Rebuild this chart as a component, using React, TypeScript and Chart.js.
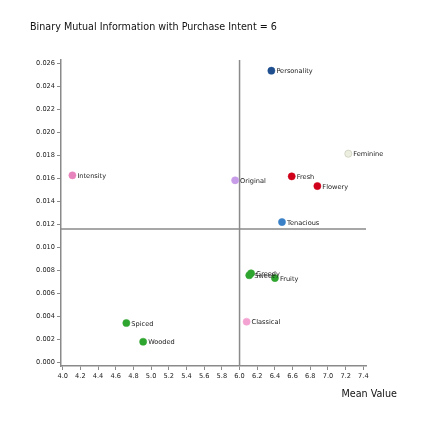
import React, { useEffect, useRef } from "react";
import { Chart, registerables } from "chart.js";

Chart.register(...registerables);

const TITLE = "Binary Mutual Information with Purchase Intent = 6";
const X_TITLE = "Mean Value";

const NAMES = ["Personality", "Feminine", "Fresh", "Flowery", "Original", "Intensity", "Tenacious", "Greedy", "Sweet", "Fruity", "Spiced", "Classical", "Wooded"];
const MEAN_VALUES = [6.36, 7.23, 6.59, 6.88, 5.95, 4.11, 6.48, 6.13, 6.11, 6.40, 4.72, 6.08, 4.91];
const MUTUAL_INFO = [0.02536, 0.01814, 0.01617, 0.01533, 0.01583, 0.01626, 0.0122, 0.00774, 0.00757, 0.00733, 0.00342, 0.00353, 0.00179];
const COLORS = ["#1f4f8f", "#ecefdf", "#d0021b", "#d0021b", "#c79ce8", "#e884bd", "#3a80c6", "#2ea52e", "#2ea52e", "#2ea52e", "#2ea52e", "#f4a2d2", "#2ea52e"];

const X_TICKS = [4.0, 4.2, 4.4, 4.6, 4.8, 5.0, 5.2, 5.4, 5.6, 5.8, 6.0, 6.2, 6.4, 6.6, 6.8, 7.0, 7.2, 7.4];
const Y_TICKS = [0, 0.002, 0.004, 0.006, 0.008, 0.01, 0.012, 0.014, 0.016, 0.018, 0.02, 0.022, 0.024, 0.026];

const REF_X = 6.0;
const REF_Y = 0.0116;

const FONT = "'DejaVu Sans', sans-serif";

export default function App() {
  const ref = useRef<HTMLCanvasElement>(null);
  useEffect(() => {
    if (!ref.current) return;
    const labelPlugin = {
      id: "extras",
      beforeDatasetsDraw(chart: any) {
        const { ctx, scales, chartArea } = chart;
        const xs = scales.x;
        const ys = scales.y;
        ctx.save();
        ctx.strokeStyle = "#8a8a8a";
        ctx.lineWidth = 1.5;
        const px = xs.getPixelForValue(REF_X);
        const py = ys.getPixelForValue(REF_Y);
        ctx.beginPath();
        ctx.moveTo(px, chartArea.top);
        ctx.lineTo(px, chartArea.bottom);
        ctx.moveTo(chartArea.left, py);
        ctx.lineTo(chartArea.right, py);
        ctx.stroke();
        ctx.restore();
      },
      afterDatasetsDraw(chart: any) {
        const { ctx } = chart;
        const meta = chart.getDatasetMeta(0);
        ctx.save();
        ctx.font = "6.6px " + FONT;
        ctx.fillStyle = "#1a1a1a";
        ctx.textBaseline = "middle";
        ctx.textAlign = "left";
        meta.data.forEach((pt: any, i: number) => {
          ctx.fillText(NAMES[i], pt.x + 5, pt.y + 1);
        });
        ctx.font = "9.6px " + FONT;
        ctx.fillStyle = "#111";
        ctx.fillText(TITLE, 30, 27);
        ctx.textAlign = "right";
        ctx.fillText(X_TITLE, 397, 394);
        ctx.restore();
      },
    };
    const chart = new Chart(ref.current, {
      type: "scatter",
      data: {
        datasets: [
          {
            data: MEAN_VALUES.map((x, i) => ({ x, y: MUTUAL_INFO[i] })),
            pointBackgroundColor: COLORS,
            pointBorderColor: COLORS.map((c) => (c === "#ecefdf" ? "#b8b8a8" : c)),
            pointBorderWidth: 0.5,
            pointRadius: 3.6,
          },
        ],
      },
      options: {
        responsive: false,
        animation: false,
        layout: { padding: { left: 20, top: 60, right: 60, bottom: 30 } },
        plugins: { legend: { display: false }, tooltip: { enabled: false }, title: { display: false } },
        scales: {
          x: {
            type: "linear",
            min: 3.981,
            max: 7.43,
            afterBuildTicks: (s: any) => {
              s.ticks = X_TICKS.map((v) => ({ value: v }));
            },
            afterFit: (s: any) => {
              s.height = 30;
            },
            grid: { display: true, drawOnChartArea: false, drawTicks: true, tickLength: 4, color: "#8a8a8a" },
            border: { display: true, color: "#8a8a8a", width: 1.5 },
            ticks: {
              padding: 2,
              autoSkip: false,
              maxRotation: 0,
              color: "#222",
              font: { family: FONT, size: 6.6 },
              callback: (v: any) => Number(v).toFixed(1),
            },
          },
          y: {
            type: "linear",
            min: -0.00032,
            max: 0.02629,
            afterBuildTicks: (s: any) => {
              s.ticks = Y_TICKS.map((v) => ({ value: v }));
            },
            afterFit: (s: any) => {
              s.width = 41;
            },
            grid: { display: true, drawOnChartArea: false, drawTicks: true, tickLength: 4, color: "#8a8a8a" },
            border: { display: true, color: "#8a8a8a", width: 1.5 },
            ticks: {
              padding: 2,
              autoSkip: false,
              color: "#222",
              font: { family: FONT, size: 6.6 },
              callback: (v: any) => Number(v).toFixed(3),
            },
          },
        },
      },
      plugins: [labelPlugin],
    });
    return () => chart.destroy();
  }, []);
  return (
    <div style={{ position: "fixed", left: 0, top: 0, width: 426, height: 426, background: "#fff" }}>
      <canvas ref={ref} width={426} height={426} style={{ width: 426, height: 426 }} />
    </div>
  );
}
